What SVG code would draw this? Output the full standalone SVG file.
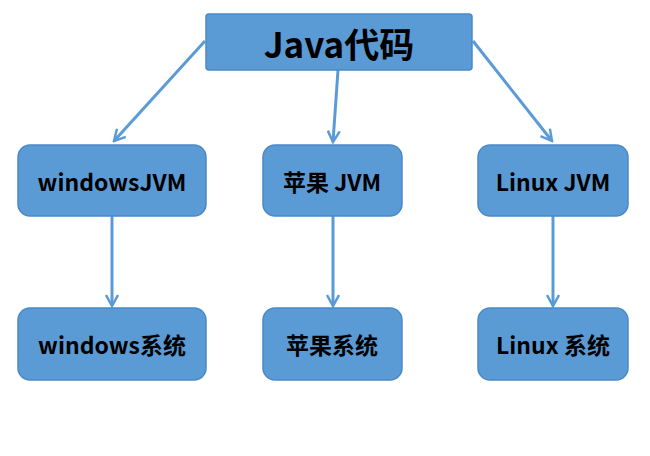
<svg xmlns="http://www.w3.org/2000/svg" width="650" height="456" viewBox="0 0 650 456">
<defs>
<style>
.box{fill:#5B9BD5;stroke:#4A89C8;stroke-width:1.5}
.t{font-family:"Noto Sans CJK SC","Noto Sans",sans-serif;font-weight:bold;fill:#000;text-anchor:middle;dominant-baseline:central}
.c{stroke:#5B9BD5;stroke-width:3;fill:none}
</style>
<marker id="arr" viewBox="0 0 14 14" refX="12" refY="7" markerWidth="14" markerHeight="14" markerUnits="userSpaceOnUse" orient="auto">
<path d="M1,1 L12,7 L1,13" fill="none" stroke="#5B9BD5" stroke-width="2.5"/>
</marker>
</defs>
<rect width="650" height="456" fill="#fff"/>
<g id="connectors">
<line class="c" x1="205" y1="41" x2="114" y2="141" marker-end="url(#arr)"/>
<line class="c" x1="338" y1="70" x2="333" y2="142" marker-end="url(#arr)"/>
<line class="c" x1="473" y1="41" x2="552" y2="141" marker-end="url(#arr)"/>
<line class="c" x1="112" y1="216" x2="112" y2="306" marker-end="url(#arr)"/>
<line class="c" x1="333" y1="216" x2="333" y2="306" marker-end="url(#arr)"/>
<line class="c" x1="553" y1="216" x2="553" y2="306" marker-end="url(#arr)"/>
</g>
<g id="java">
<rect class="box" x="206" y="14" width="266" height="56" rx="3"/>
<text class="t" x="339" y="42" font-size="35">Java代码</text>
</g>
<g id="winjvm">
<rect class="box" x="18" y="145" width="188" height="71" rx="12"/>
<text class="t" x="112" y="181" font-size="23">windowsJVM</text>
</g>
<g id="macjvm">
<rect class="box" x="263" y="145" width="139" height="71" rx="12"/>
<text class="t" x="332" y="181" font-size="23">苹果 JVM</text>
</g>
<g id="linuxjvm">
<rect class="box" x="478" y="145" width="150" height="71" rx="12"/>
<text class="t" x="553" y="181" font-size="23">Linux JVM</text>
</g>
<g id="winos">
<rect class="box" x="18" y="308" width="188" height="72" rx="12"/>
<text class="t" x="112" y="344" font-size="23">windows系统</text>
</g>
<g id="macos">
<rect class="box" x="263" y="308" width="139" height="72" rx="12"/>
<text class="t" x="332" y="344" font-size="23">苹果系统</text>
</g>
<g id="linuxos">
<rect class="box" x="478" y="308" width="150" height="72" rx="12"/>
<text class="t" x="553" y="344" font-size="23">Linux 系统</text>
</g>
</svg>
